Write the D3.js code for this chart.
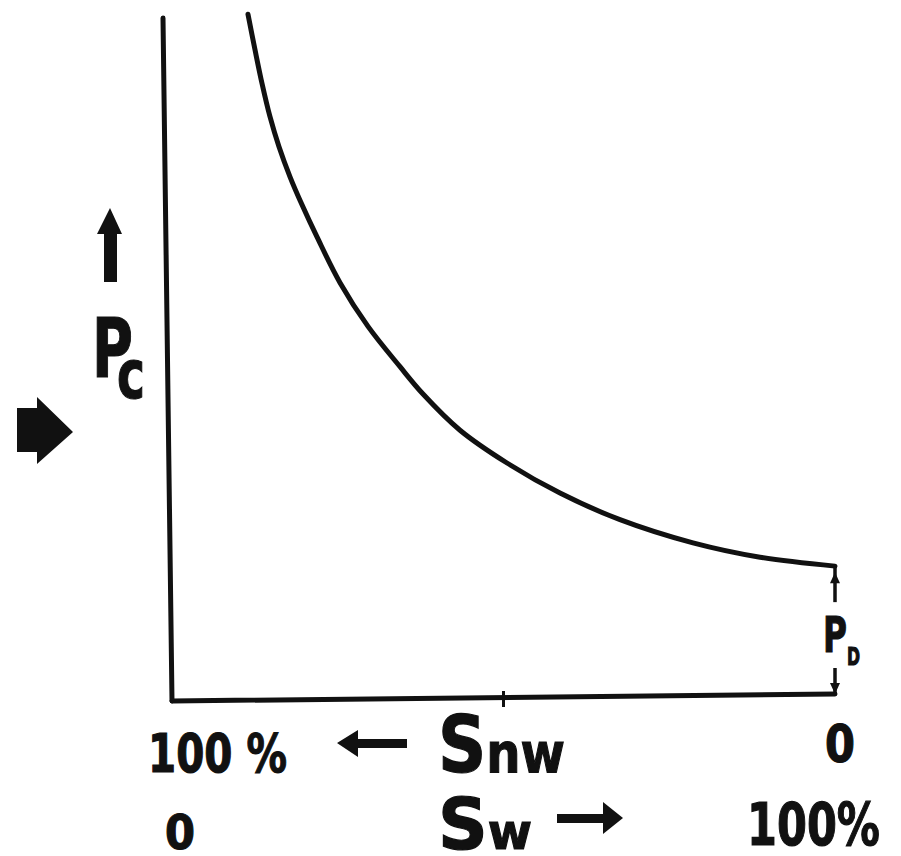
<!DOCTYPE html>
<html>
<head>
<meta charset="utf-8">
<script src="https://cdn.jsdelivr.net/npm/d3@7"></script>
<style>
  html, body { margin: 0; padding: 0; background: #fff; }
  svg { display: block; }
  text { font-family: "DejaVu Sans", "Liberation Sans", sans-serif; font-weight: 700; fill: #111; stroke: #111; stroke-width: 1.2; }
</style>
</head>
<body>
<svg id="chart" width="901" height="856"></svg>
<script>
// Capillary pressure curve (Pc vs. wetting-phase saturation Sw), relative units
const sw = [11.46, 12.52, 13.57, 14.78, 16.14, 17.80, 19.61, 21.87, 25.34, 29.56, 34.39, 37.86, 43.44, 50.53, 58.52, 67.57, 78.58, 88.69, 100];
const pc = [100.4, 95.2, 90.3, 85.4, 81.0, 76.6, 72.5, 67.8, 61.1, 54.7, 48.8, 44.8, 39.5, 34.7, 30.3, 26.4, 23.0, 20.9, 19.6];
const pd = 19.6;                       // displacement pressure
const xTickValues = [50];              // single mid tick
const snwLabels = ["100 %", "0"];      // Snw at left / right
const swLabels = ["0", "100%"];        // Sw at left / right

const svg = d3.select("#chart");
const ink = "#111";

const x = d3.scaleLinear().domain([0, 100]).range([172, 835]);
const y = d3.scaleLinear().domain([0, 100]).range([700, 17]);

// axes (hand-drawn, slightly skewed)
svg.append("line")
  .attr("x1", x(0) - 9).attr("y1", y(100) + 1)
  .attr("x2", x(0)).attr("y2", y(0) + 1)
  .attr("stroke", ink).attr("stroke-width", 5).attr("stroke-linecap", "round");
svg.append("line")
  .attr("x1", x(0)).attr("y1", y(0) + 1)
  .attr("x2", x(100)).attr("y2", y(0) - 6)
  .attr("stroke", ink).attr("stroke-width", 5).attr("stroke-linecap", "round");

// mid tick
svg.selectAll(".tick").data(xTickValues).enter().append("line")
  .attr("x1", d => x(d)).attr("x2", d => x(d))
  .attr("y1", y(0) - 9).attr("y2", y(0) + 7)
  .attr("stroke", ink).attr("stroke-width", 3);

// curve
const pts = sw.map((d, i) => [d, pc[i]]);
svg.append("path")
  .datum(pts)
  .attr("fill", "none").attr("stroke", ink).attr("stroke-width", 5)
  .attr("stroke-linecap", "round")
  .attr("d", d3.line().x(d => x(d[0])).y(d => y(d[1])).curve(d3.curveCatmullRom.alpha(0.5)));

// Pd marker
const px = x(100);
const pTop = y(pd), pBot = y(0) - 6;
svg.append("line").attr("x1", px).attr("x2", px).attr("y1", pTop).attr("y2", pTop + 36)
  .attr("stroke", ink).attr("stroke-width", 3.5);
svg.append("path").attr("fill", ink)
  .attr("d", `M${px},${pTop + 6} L${px - 5},${pTop + 17} L${px + 5},${pTop + 17} Z`);
svg.append("line").attr("x1", px).attr("x2", px).attr("y1", pBot - 26).attr("y2", pBot)
  .attr("stroke", ink).attr("stroke-width", 3.5);
svg.append("path").attr("fill", ink)
  .attr("d", `M${px},${pBot} L${px - 5},${pBot - 11} L${px + 5},${pBot - 11} Z`);

function label(t, xx, yy, fs, len) {
  const e = svg.append("text").attr("x", xx).attr("y", yy).attr("font-size", fs).text(t);
  if (len) e.attr("textLength", len).attr("lengthAdjust", "spacingAndGlyphs");
  return e;
}
// P with subscript D
const pdText = svg.append("text").attr("x", px - 12).attr("y", 652)
  .attr("textLength", 37).attr("lengthAdjust", "spacingAndGlyphs");
pdText.append("tspan").attr("font-size", 50).text("P");
pdText.append("tspan").attr("font-size", 24).attr("dy", 13).text("D");

// bottom labels
label(snwLabels[0], 148, 772, 53, 139);
label(snwLabels[1], 825, 762, 51, 30);
label(swLabels[0], 165, 849, 48, 30);
label(swLabels[1], 747, 845, 58, 133);

const snw = svg.append("text").attr("x", 438).attr("y", 772)
  .attr("textLength", 127).attr("lengthAdjust", "spacingAndGlyphs");
snw.append("tspan").attr("font-size", 78).text("S");
snw.append("tspan").attr("font-size", 56).text("nw");

const swl = svg.append("text").attr("x", 438).attr("y", 849)
  .attr("textLength", 94).attr("lengthAdjust", "spacingAndGlyphs");
swl.append("tspan").attr("font-size", 72).text("S");
swl.append("tspan").attr("font-size", 50).text("w");

// left block arrow (<= Snw)
svg.append("path").attr("fill", ink)
  .attr("d", "M337,743 L358,730 L358,739 L407,739 L407,748 L358,748 L358,757 Z");
// right block arrow (Sw =>)
svg.append("path").attr("fill", ink)
  .attr("d", "M557,814 L603,814 L603,802 L623,818 L603,834 L603,823 L557,823 Z");

// Pc label with up arrow
svg.append("path").attr("fill", ink)
  .attr("d", "M110,208 L122,234 L117,234 L117,282 L104,282 L104,234 L97,234 Z");
const pcText = svg.append("text").attr("x", 92).attr("y", 377);
pcText.append("tspan").attr("font-size", 82).attr("textLength", 41)
  .attr("lengthAdjust", "spacingAndGlyphs").text("P");
pcText.append("tspan").attr("font-size", 67).attr("x", 117).attr("dy", 21)
  .attr("textLength", 28).attr("lengthAdjust", "spacingAndGlyphs").text("c");

// left pointer arrow
svg.append("path").attr("fill", ink)
  .attr("d", "M17,408 L37,408 L37,397 L73,432 L37,464 L37,452 L17,452 Z");
</script>
</body>
</html>
